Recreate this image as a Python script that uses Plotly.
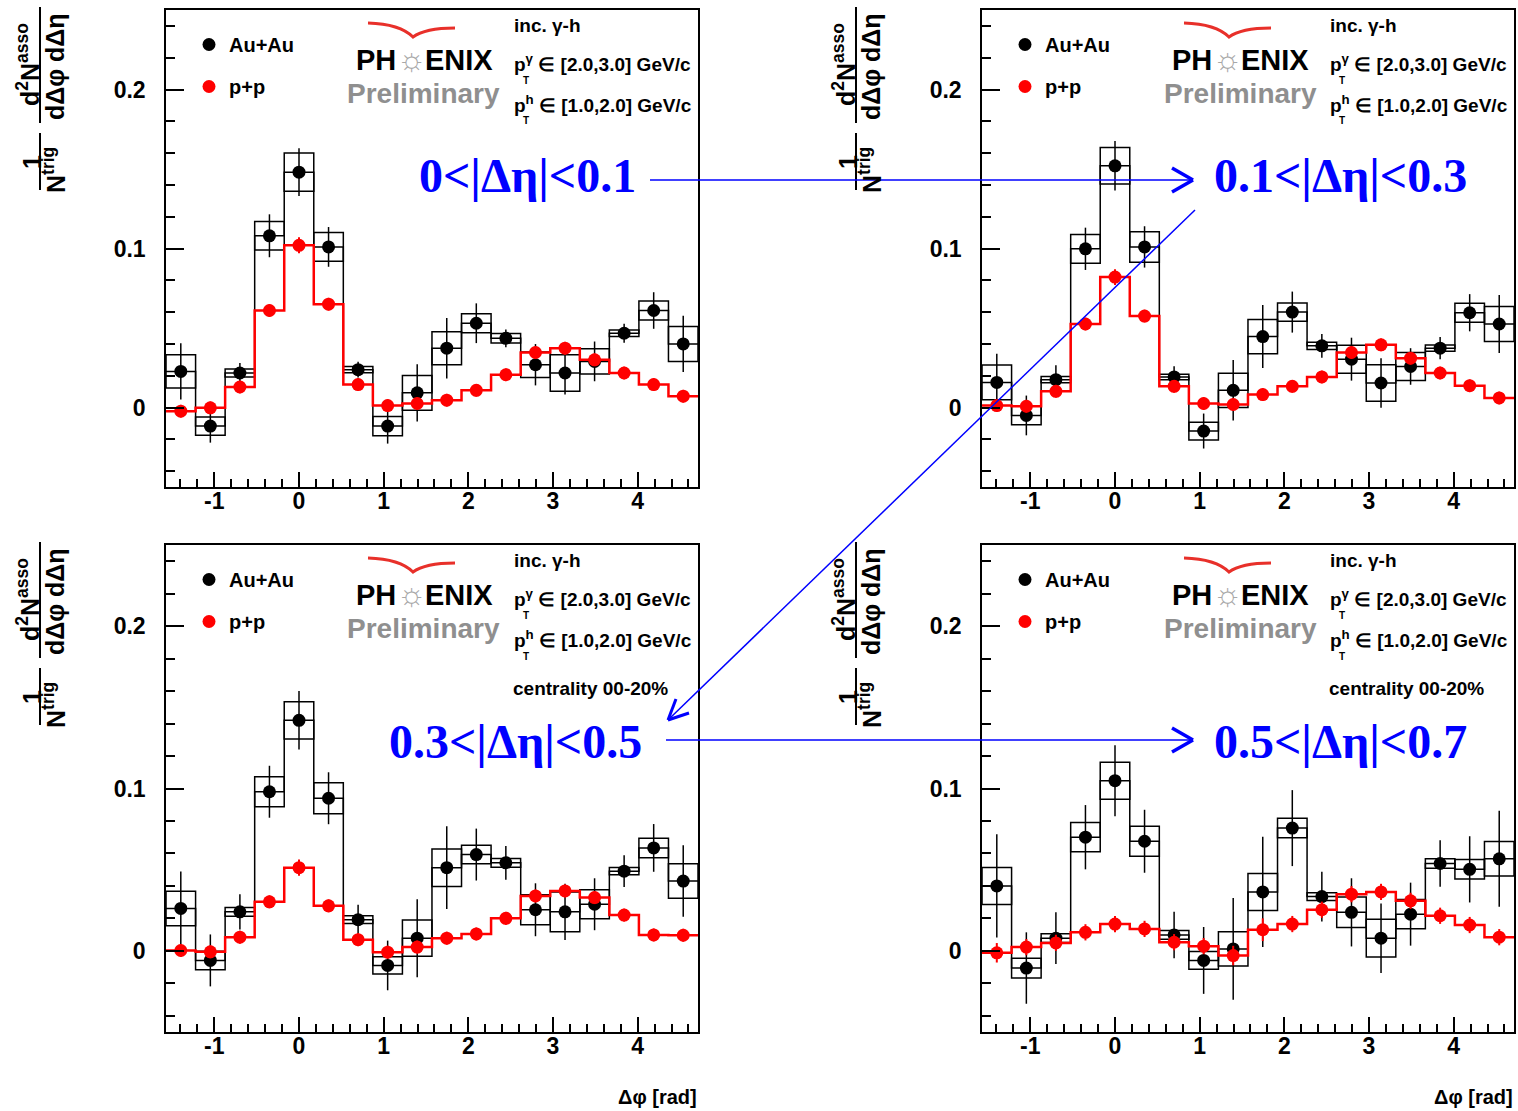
import math
import plotly.graph_objects as go

W, H = 1518, 1111
FONT = "Liberation Sans, Arial, sans-serif"
SERIF = "Liberation Serif, Times New Roman, serif"
BLUE = "#0000ff"

# ---------------- data ----------------
dphi = [-1.396, -1.047, -0.698, -0.349, 0.0, 0.349, 0.698, 1.047, 1.396,
        1.745, 2.094, 2.443, 2.793, 3.142, 3.491, 3.840, 4.189, 4.538]
bin_width = 0.349

xtick_vals = [-1, 0, 1, 2, 3, 4]
xtick_text = ["-1", "0", "1", "2", "3", "4"]
ytick_vals = [0, 0.1, 0.2]
ytick_text = ["0", "0.1", "0.2"]

# panel 1 : 0<|deta|<0.1
auau_p1 = [0.0227, -0.0117, 0.0217, 0.108, 0.148, 0.101, 0.0238, -0.0117, 0.0092,
           0.0373, 0.053, 0.0435, 0.0269, 0.0217, 0.029, 0.0467, 0.061, 0.040]
auau_stat_p1 = [0.0177, 0.0104, 0.0063, 0.0135, 0.015, 0.0125, 0.005, 0.011, 0.018,
                0.019, 0.0125, 0.0056, 0.013, 0.0135, 0.0125, 0.006, 0.0115, 0.0177]
auau_sys_p1 = [0.0104, 0.0058, 0.0025, 0.009, 0.012, 0.009, 0.002, 0.006, 0.011,
               0.0104, 0.006, 0.003, 0.008, 0.0115, 0.008, 0.002, 0.006, 0.011]
pp_p1 = [-0.0023, -0.0002, 0.0129, 0.061, 0.102, 0.065, 0.0144, 0.0012, 0.0025,
         0.0046, 0.0108, 0.0206, 0.0346, 0.0373, 0.030, 0.0217, 0.0144, 0.0071]
pp_err_p1 = [0.004, 0.004, 0.004, 0.004, 0.005, 0.004, 0.004, 0.004, 0.004,
             0.004, 0.004, 0.004, 0.004, 0.004, 0.004, 0.004, 0.004, 0.004]

# panel 2 : 0.1<|deta|<0.3
auau_p2 = [0.0158, -0.005, 0.0175, 0.0998, 0.152, 0.101, 0.0192, -0.0148, 0.0108,
           0.0446, 0.060, 0.0388, 0.0304, 0.0154, 0.0258, 0.0373, 0.0596, 0.0525]
auau_stat_p2 = [0.018, 0.0125, 0.009, 0.0133, 0.0156, 0.013, 0.0067, 0.011, 0.019,
                0.0198, 0.0129, 0.0075, 0.0135, 0.0156, 0.0115, 0.007, 0.0117, 0.0183]
auau_sys_p2 = [0.011, 0.0058, 0.002, 0.009, 0.0115, 0.0096, 0.0017, 0.0056, 0.0108,
               0.0108, 0.0058, 0.0023, 0.0088, 0.0115, 0.0088, 0.002, 0.006, 0.011]
pp_p2 = [0.0012, 0.0008, 0.0102, 0.0525, 0.082, 0.0575, 0.0133, 0.0025, 0.0019,
         0.0081, 0.0133, 0.0192, 0.0346, 0.0394, 0.031, 0.0217, 0.0137, 0.006]
pp_err_p2 = [0.004, 0.004, 0.004, 0.004, 0.005, 0.004, 0.004, 0.004, 0.004,
             0.004, 0.004, 0.004, 0.004, 0.004, 0.004, 0.004, 0.004, 0.004]

# panel 3 : 0.3<|deta|<0.5
auau_p3 = [0.0261, -0.0059, 0.024, 0.098, 0.142, 0.094, 0.0192, -0.009, 0.0078,
           0.0512, 0.0593, 0.0542, 0.0253, 0.024, 0.0287, 0.0491, 0.0634, 0.043]
auau_stat_p3 = [0.0228, 0.016, 0.0108, 0.016, 0.018, 0.016, 0.0092, 0.0153, 0.024,
                0.0255, 0.016, 0.0104, 0.0163, 0.0173, 0.016, 0.0098, 0.0147, 0.022]
auau_sys_p3 = [0.0106, 0.0057, 0.0027, 0.0092, 0.0115, 0.0096, 0.0024, 0.0053, 0.0112,
               0.0116, 0.0057, 0.0027, 0.0092, 0.0122, 0.009, 0.0023, 0.006, 0.0106]
pp_p3 = [0.0002, -0.0006, 0.0084, 0.0302, 0.0512, 0.0277, 0.0069, -0.0008, 0.0023,
         0.0078, 0.0104, 0.020, 0.0338, 0.0369, 0.0328, 0.022, 0.0098, 0.0096]
pp_err_p3 = [0.004, 0.004, 0.004, 0.004, 0.005, 0.004, 0.004, 0.004, 0.004,
             0.004, 0.004, 0.004, 0.004, 0.004, 0.004, 0.004, 0.004, 0.004]

# panel 4 : 0.5<|deta|<0.7
auau_p4 = [0.040, -0.0106, 0.0078, 0.070, 0.1048, 0.0675, 0.0098, -0.0059, 0.0012,
           0.0363, 0.0756, 0.0334, 0.0237, 0.0078, 0.0226, 0.0538, 0.0502, 0.0567]
auau_stat_p4 = [0.0318, 0.022, 0.0159, 0.0198, 0.0219, 0.0194, 0.0143, 0.0206, 0.0314,
                0.034, 0.0234, 0.0153, 0.021, 0.0214, 0.0194, 0.0143, 0.0204, 0.0296]
auau_sys_p4 = [0.0114, 0.0061, 0.0027, 0.009, 0.0114, 0.0092, 0.0027, 0.0055, 0.0106,
               0.0114, 0.006, 0.0024, 0.0094, 0.0116, 0.009, 0.003, 0.006, 0.0106]
pp_p4 = [-0.0012, 0.0023, 0.0049, 0.0114, 0.0165, 0.0135, 0.0053, 0.0029, -0.0029,
         0.013, 0.0165, 0.0253, 0.0349, 0.0363, 0.0308, 0.0216, 0.0159, 0.0084]
pp_err_p4 = [0.006, 0.005, 0.005, 0.005, 0.005, 0.005, 0.005, 0.005, 0.006,
             0.007, 0.005, 0.005, 0.005, 0.005, 0.005, 0.005, 0.005, 0.005]

deta_labels = ["0<|Δη|<0.1", "0.1<|Δη|<0.3", "0.3<|Δη|<0.5", "0.5<|Δη|<0.7"]
series_names = ["Au+Au", "p+p"]

panels = [
    (auau_p1, auau_stat_p1, auau_sys_p1, pp_p1, pp_err_p1),
    (auau_p2, auau_stat_p2, auau_sys_p2, pp_p2, pp_err_p2),
    (auau_p3, auau_stat_p3, auau_sys_p3, pp_p3, pp_err_p3),
    (auau_p4, auau_stat_p4, auau_sys_p4, pp_p4, pp_err_p4),
]

# ---------------- layout geometry (pixels) ----------------
frames = [(166, 10, 698, 487), (982, 10, 1514, 487),
          (166, 545, 698, 1032), (982, 545, 1514, 1032)]


def px(x):
    return x / W


def py(y):
    return 1 - y / H


def steps(vals):
    xs = [c - bin_width / 2 for c in dphi] + [dphi[-1] + bin_width / 2]
    ys = list(vals) + [vals[-1]]
    return xs, ys


fig = go.Figure()
annotations = []
shapes = []
layout_axes = {}

axis_common = dict(showline=True, linecolor="black", linewidth=1.5, mirror=True,
                   showgrid=False, zeroline=False, ticks="inside",
                   tickcolor="black", tickwidth=1.5,
                   tickfont=dict(family=FONT, size=23, color="black", weight="bold"))


def ann(text, x, y, size, color="black", family=FONT, xanchor="left",
        yanchor="middle", angle=0, weight="bold"):
    annotations.append(dict(text=text, x=px(x), y=py(y), xref="paper", yref="paper",
                            showarrow=False, xanchor=xanchor, yanchor=yanchor,
                            textangle=angle, borderpad=0,
                            font=dict(family=family, size=size, color=color,
                                      weight=weight)))


def line(x0, y0, x1, y1, w, color=BLUE):
    shapes.append(dict(type="line", xref="paper", yref="paper",
                       x0=px(x0), y0=py(y0), x1=px(x1), y1=py(y1),
                       line=dict(color=color, width=w)))


for i, ((aa, aa_st, aa_sy, pp, pp_e), fr) in enumerate(zip(panels, frames)):
    s = "" if i == 0 else str(i + 1)
    xa, ya = "x" + s, "y" + s
    leg = "legend" + s
    fx0, fy0, fx1, fy1 = fr

    # systematic boxes
    fig.add_trace(go.Bar(x=dphi, y=[2 * e for e in aa_sy],
                         base=[v - e for v, e in zip(aa, aa_sy)],
                         width=bin_width, xaxis=xa, yaxis=ya,
                         marker=dict(color="rgba(0,0,0,0)",
                                     line=dict(color="black", width=1.5)),
                         showlegend=False, hoverinfo="skip"))
    # Au+Au histogram outline
    hx, hy = steps(aa)
    fig.add_trace(go.Scatter(x=hx, y=hy, mode="lines", line_shape="hv",
                             line=dict(color="black", width=1.5), xaxis=xa, yaxis=ya,
                             showlegend=False, hoverinfo="skip"))
    # Au+Au points
    fig.add_trace(go.Scatter(x=dphi, y=aa, mode="markers", name=series_names[0],
                             marker=dict(color="black", size=13, symbol="circle"),
                             error_y=dict(type="data", array=aa_st, color="black",
                                          thickness=1.5, width=0),
                             xaxis=xa, yaxis=ya, legend=leg,
                             legendgroup="aa" + str(i)))
    # p+p histogram
    hx, hy = steps(pp)
    fig.add_trace(go.Scatter(x=hx, y=hy, mode="lines", line_shape="hv",
                             line=dict(color="#ff0000", width=2.5), xaxis=xa, yaxis=ya,
                             showlegend=False, hoverinfo="skip"))
    # p+p points
    fig.add_trace(go.Scatter(x=dphi, y=pp, mode="markers", name=series_names[1],
                             marker=dict(color="#ff0000", size=13, symbol="circle"),
                             error_y=dict(type="data", array=pp_e, color="#ff0000",
                                          thickness=2, width=0),
                             xaxis=xa, yaxis=ya, legend=leg,
                             legendgroup="pp" + str(i)))

    layout_axes["xaxis" + s] = dict(axis_common, range=[-math.pi / 2, 3 * math.pi / 2],
                                    tickvals=xtick_vals, ticktext=xtick_text, ticklen=15,
                                    minor=dict(dtick=0.2, tick0=0, ticks="inside", ticklen=8,
                                               tickwidth=1.5, tickcolor="black"),
                                    ticklabelstandoff=-7,
                                    domain=[px(fx0), px(fx1)], anchor=ya)
    layout_axes["yaxis" + s] = dict(axis_common, range=[-0.05, 0.25],
                                    tickvals=ytick_vals, ticktext=ytick_text, ticklen=18,
                                    minor=dict(dtick=0.02, tick0=0, ticks="inside", ticklen=9,
                                               tickwidth=1.5, tickcolor="black"),
                                    ticklabelstandoff=14,
                                    domain=[py(fy1), py(fy0)], anchor=xa)
    layout_axes[leg] = dict(x=px(fx0 + 23), y=py(fy0 + 15), xanchor="left", yanchor="top",
                            bgcolor="rgba(0,0,0,0)", traceorder="grouped",
                            tracegroupgap=13, itemclick=False, itemdoubleclick=False,
                            font=dict(family=FONT, size=20, color="black", weight="bold"))

    # PHENIX logo
    ann("PH", fx0 + 210, fy0 + 50, 29, xanchor="center")
    ann("☼", fx0 + 245, fy0 + 49, 32, color="#a8a8a8", xanchor="center", weight="normal")
    ann("ENIX", fx0 + 293, fy0 + 50, 29, xanchor="center")
    ann("Preliminary", fx0 + 258, fy0 + 83, 28, color="#8f8f8f", xanchor="center")
    sx = [fx0 + 202, fx0 + 234, fx0 + 247, fx0 + 259, fx0 + 289]
    sy = [fy0 + 13, fy0 + 14, fy0 + 27, fy0 + 18, fy0 + 18]
    path = "M {:.5f},{:.5f} Q {:.5f},{:.5f} {:.5f},{:.5f} Q {:.5f},{:.5f} {:.5f},{:.5f}".format(
        px(sx[0]), py(sy[0]), px(sx[1]), py(sy[1]), px(sx[2]), py(sy[2]),
        px(sx[3]), py(sy[3]), px(sx[4]), py(sy[4]))
    shapes.append(dict(type="path", xref="paper", yref="paper", path=path,
                       line=dict(color="#e8302a", width=3)))

    # kinematic text
    ann("inc. γ-h", fx0 + 347, fy0 + 15, 19)
    ann("p<sup>γ</sup> ∈ [2.0,3.0] GeV/c", fx0 + 347, fy0 + 53, 19)
    ann("T", fx0 + 360, fy0 + 70, 10, xanchor="center")
    ann("p<sup>h</sup> ∈ [1.0,2.0] GeV/c", fx0 + 347, fy0 + 94, 19)
    ann("T", fx0 + 360, fy0 + 111, 10, xanchor="center")
    if i >= 2:
        ann("centrality 00-20%", fx0 + 346, fy0 + 143, 19)

    # y-axis title (fraction)
    lx = fx0 - 126
    ann("d<sup>2</sup>N<sup>asso</sup>", lx - 12, fy0 + 55, 25, angle=-90, xanchor="center")
    ann("dΔφ dΔη", lx + 15, fy0 + 57, 25, angle=-90, xanchor="center")
    ann("1", lx - 8, fy0 + 152, 25, angle=-90, xanchor="center")
    ann("N<sup>trig</sup>", lx + 14, fy0 + 160, 25, angle=-90, xanchor="center")
    line(lx, fy0 - 3, lx, fy0 + 113, 2, color="black")
    line(lx, fy0 + 123, lx, fy0 + 180, 2, color="black")

    if i >= 2:
        ann("Δφ [rad]", fx1, 1097, 20, xanchor="right")

# big blue labels
label_pos = [(418, 175), (1213, 175), (388, 741), (1213, 741)]
for t, (x, y) in zip(deta_labels, label_pos):
    ann(t, x, y, 48, color=BLUE, family=SERIF)

# arrows
line(650, 180, 1192, 180, 1.5)
line(1172, 168, 1193, 180, 3.5)
line(1193, 180, 1172, 192, 3.5)
line(1195, 210, 668, 720, 1.5)
line(668, 720, 676, 699, 3)
line(668, 720, 689, 713, 3)
line(666, 740, 1192, 740, 1.5)
line(1172, 728, 1193, 740, 3.5)
line(1193, 740, 1172, 752, 3.5)

fig.update_layout(width=W, height=H, margin=dict(l=0, r=0, t=0, b=0),
                  paper_bgcolor="white", plot_bgcolor="white", barmode="overlay",
                  annotations=annotations, shapes=shapes, **layout_axes)

fig.write_html("out.html")
